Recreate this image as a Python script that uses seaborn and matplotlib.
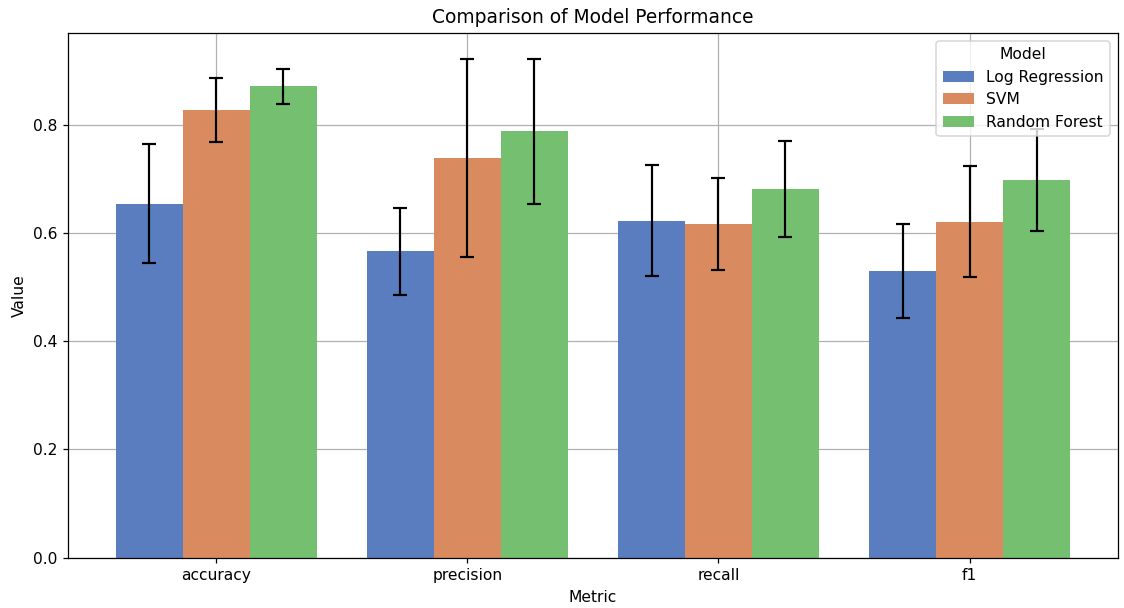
import numpy as np
import matplotlib
matplotlib.use("Agg")
import matplotlib.pyplot as plt
import seaborn as sns
import pandas as pd

# ------------------------------------------ Data ------------------------------------------ #
metrics = ["accuracy", "precision", "recall", "f1"]
models = ["Log Regression", "SVM", "Random Forest"]

mean_lr = [0.654, 0.566, 0.623, 0.530]
mean_svm = [0.828, 0.738, 0.617, 0.621]
mean_rf = [0.871, 0.788, 0.681, 0.698]

std_lr = [0.110, 0.080, 0.102, 0.087]
std_svm = [0.059, 0.183, 0.085, 0.103]
std_rf = [0.033, 0.134, 0.089, 0.095]

means = [mean_lr, mean_svm, mean_rf]
stds = [std_lr, std_svm, std_rf]

rows = []
for m, mv, sv in zip(models, means, stds):
    for met, v, s in zip(metrics, mv, sv):
        rows.append({"Metric": met, "Model": m, "Value": v, "Std": s})
df = pd.DataFrame(rows)

# ------------------------------------------ Plot ------------------------------------------ #
dpi = 112
fig, ax = plt.subplots(figsize=(1124 / dpi, 608 / dpi), dpi=dpi)
fig.subplots_adjust(left=0.0605, right=0.9945, top=0.946, bottom=0.083)

sns.barplot(data=df, x="Metric", y="Value", hue="Model", hue_order=models,
            order=metrics, palette="muted", errorbar=None, width=0.8, ax=ax)

# error bars at the bar centres
for cont, m in zip(ax.containers, models):
    sub = df[df["Model"] == m].set_index("Metric").loc[metrics]
    xs = [p.get_x() + p.get_width() / 2 for p in cont.patches]
    hs = [p.get_height() for p in cont.patches]
    ax.errorbar(xs, hs, yerr=sub["Std"].values, fmt="none", ecolor="black",
                elinewidth=1.4, capsize=4.3, capthick=1.4, zorder=3)

ax.set_xlim(-0.59, 3.59)
ax.set_ylim(0, 0.97)
ax.set_title("Comparison of Model Performance", fontsize=12)
ax.set_xlabel("Metric")
ax.set_ylabel("Value")
ax.grid(True, color="#b0b0b0", linewidth=0.8)
ax.set_axisbelow(True)
ax.legend(title="Model", loc="upper right")

fig.savefig("out.png", dpi=dpi)
